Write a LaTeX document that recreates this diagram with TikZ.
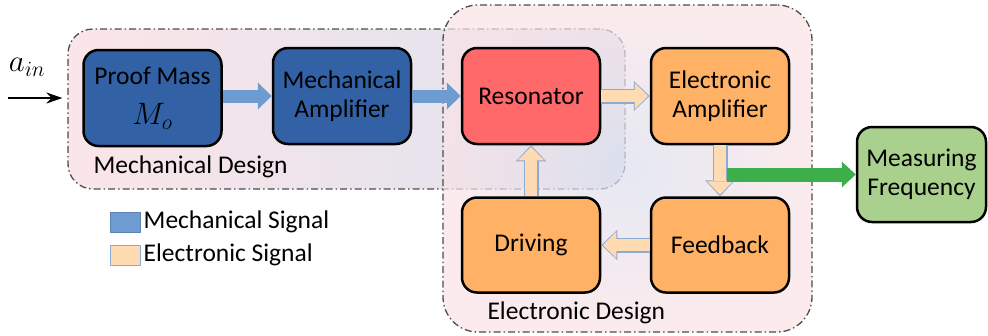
\documentclass[tikz,border=0pt]{standalone}
\usepackage{fontspec}
\usepackage{fix-cm}
\setmainfont{Carlito}
\usetikzlibrary{arrows.meta,positioning}
\definecolor{mechbox}{RGB}{50,98,165}
\definecolor{mechsig}{RGB}{110,155,208}
\definecolor{resbox}{RGB}{255,105,105}
\definecolor{elecbox}{RGB}{255,178,102}
\definecolor{elecsig}{RGB}{255,219,180}
\definecolor{elecline}{RGB}{140,170,210}
\definecolor{outsig}{RGB}{60,175,75}
\definecolor{measbox}{RGB}{170,208,142}
\definecolor{pinkreg}{RGB}{250,226,229}
\definecolor{bluereg}{RGB}{218,224,238}
\begin{document}
\begin{tikzpicture}[x=1pt,y=-1pt,line join=round,font=\fontsize{25.5}{29}\selectfont,
	block/.style={draw=black,line width=2.5pt,rounded corners=15pt,minimum width=138pt,minimum height=96pt,align=center,inner sep=2pt},
	region/.style={draw=black!70,line width=1.3pt,dash pattern=on 7pt off 3pt on 1.5pt off 3pt},
	legbox/.style={minimum width=30pt,minimum height=20pt,line width=1pt,inner sep=0pt},
	mecharrow/.style={draw=mechsig,line width=13pt,-{Triangle[length=14pt,width=27pt,line width=0pt]}},
	elecout/.style={draw=elecline,line width=15pt,-{Triangle[length=16pt,width=30pt,line width=0pt]}},
	elecin/.style={draw=elecsig,line width=12.5pt,shorten >=1.5pt,-{Triangle[length=13.5pt,width=26pt,line width=0pt]}},
	outarrow/.style={draw=outsig,line width=14pt,-{Triangle[length=14pt,width=26pt,line width=0pt]}},
	bigmath/.style={font=\fontsize{31}{33}\selectfont}]
	\useasboundingbox (0,0) rectangle (988,335);
	% design regions
	\node[region,rounded corners=25pt,minimum width=557pt,minimum height=160pt,left color=pinkreg,right color=bluereg,fill opacity=0.9] (mechreg) at (346.5,109) {};
	\node[region,rounded corners=35pt,minimum width=369pt,minimum height=327pt,inner color=bluereg,outer color=pinkreg,fill opacity=0.7] (elecreg) at (627.5,168.5) {};
	\node[anchor=west] (mechlab) at (90,167) {Mechanical Design};
	\node[anchor=west] (eleclab) at (484,313) {Electronic Design};
	% blocks
	\node[block,fill=mechbox] (pm) at (152.5,98) {Proof Mass\\[11pt]{\fontsize{31}{33}\selectfont$M_o$}};
	\node[block,fill=mechbox] (ma) at (342,96) {Mechanical\\Amplifier};
	\node[block,fill=resbox] (res) at (531,96) {Resonator};
	\node[block,fill=elecbox] (eamp) at (720,96) {Electronic\\Amplifier};
	\node[block,fill=elecbox,minimum height=95pt] (feed) at (720,245) {Feedback};
	\node[block,fill=elecbox,minimum height=95pt] (drv) at (531,245) {Driving};
	\node[block,fill=measbox,minimum width=129pt,minimum height=95pt] (meas) at (921.5,174.5) {Measuring\\Frequency};
	% input
	\node[bigmath] (ain) at (27,67) {$a_{in}$};
	\coordinate (src) at (8,98);
	\draw[line width=1.8pt,shorten >=5pt,-{Stealth[length=16pt,width=11pt]}] (src) -- (src -| mechreg.west);
	% signals
	\draw[mecharrow] (pm.east |- ma.west) -- (ma);
	\draw[mecharrow] (ma) -- (res);
	\foreach \a/\b in {res.east/eamp.west,eamp.south/feed.north,feed.west/drv.east,drv.north/res.south}{
		\draw[elecout] (\a) -- (\b);
		\draw[elecin] (\a) -- (\b);
	}
	\coordinate (tap) at (727,174.5);
	\draw[outarrow] (tap) -- (meas.west);
	% legend
	\node[legbox,fill=mechsig,draw=mechsig!85!black] (legm) at (125,222) {};
	\node[legbox,fill=elecsig,draw=elecline] (lege) at (125,255) {};
	\node[right=2pt of legm,inner sep=1pt] (legmtext) {Mechanical Signal};
	\node[right=2pt of lege,inner sep=1pt] (legetext) {Electronic Signal};
\end{tikzpicture}
\end{document}
